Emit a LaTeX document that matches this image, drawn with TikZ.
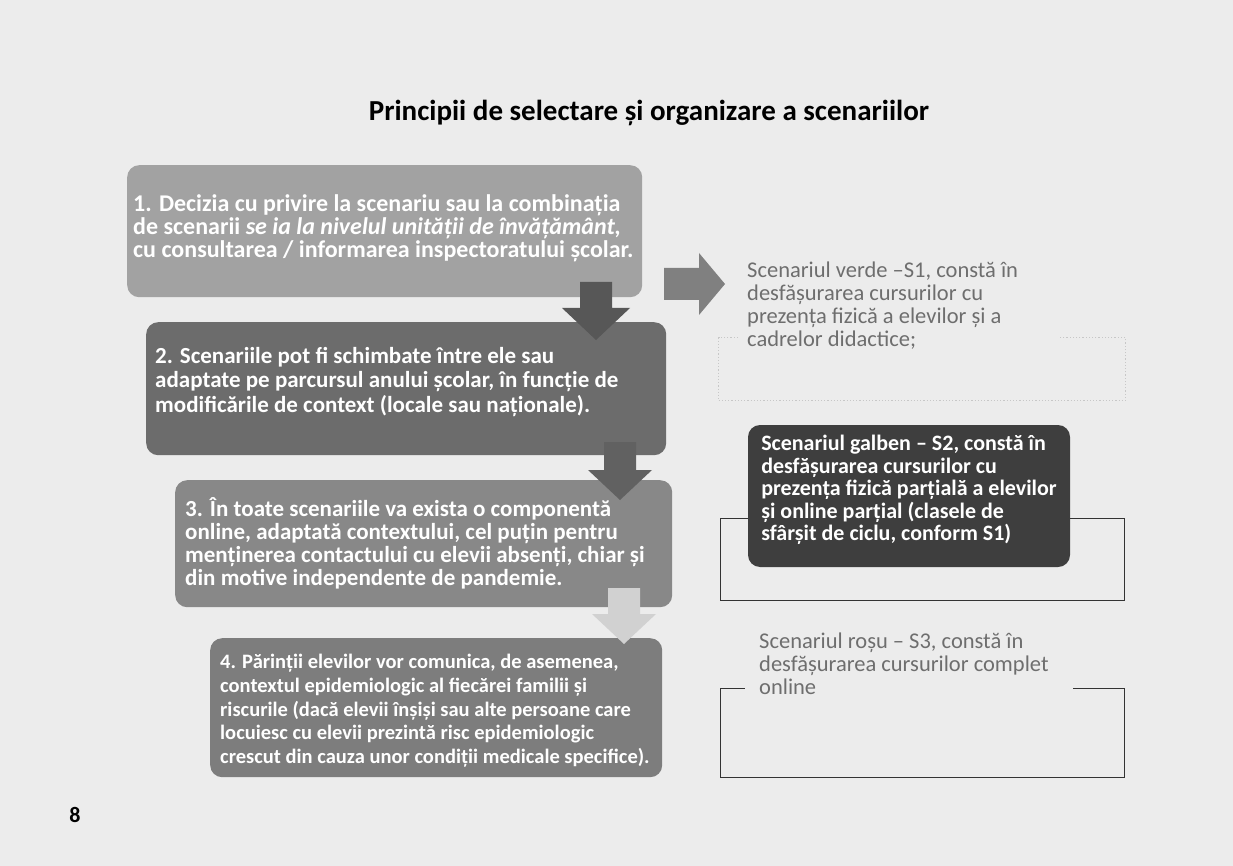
\documentclass[tikz,border=0pt]{standalone}
\usepackage{fontspec}
\setmainfont{Carlito}
\usepackage{tikz}

\definecolor{pagebg}{HTML}{ECECEC}
\definecolor{stepA}{HTML}{A2A2A2}
\definecolor{stepB}{HTML}{6C6C6C}
\definecolor{stepC}{HTML}{888888}
\definecolor{stepD}{HTML}{7D7D7D}
\definecolor{scenB}{HTML}{3E3E3E}
\definecolor{scentext}{HTML}{6E6E6E}

\tikzstyle{stepbox}=[rounded corners=12pt, inner sep=0pt, anchor=north west]
\tikzstyle{steptxt}=[anchor=north west, align=flush left, inner sep=0pt, text=white]
\tikzstyle{scentxt}=[anchor=north west, align=flush left, inner xsep=7pt, inner ysep=5pt, fill=pagebg, text=scentext, font=\fontsize{22.5}{23}\selectfont]
\tikzstyle{scenframe}=[draw=black!80, line width=1.2pt, inner sep=0pt, anchor=north west]

\begin{document}
\begin{tikzpicture}[x=1pt, y=-1pt]

\fill[pagebg] (0,0) rectangle (1233,866);
\useasboundingbox (0,0) rectangle (1233,866);

\node[font=\fontsize{29}{32}\selectfont\bfseries] (title) at (649,113) {Principii de selectare și organizare a scenariilor};

% left column: the four steps
\node[stepbox, fill=stepA, minimum width=515pt, minimum height=132pt] (b1) at (127,165) {};
\node[stepbox, fill=stepB, minimum width=520pt, minimum height=133pt] (b2) at (146,322) {};
\node[stepbox, fill=stepC, minimum width=497pt, minimum height=127pt] (b3) at (175,480) {};
\node[stepbox, fill=stepD, minimum width=452pt, minimum height=139pt] (b4) at (210,638) {};

\node[steptxt, font=\fontsize{24}{23}\selectfont\bfseries] (t1) at (133,194) {1. Decizia cu privire la scenariu sau la combinația\\
de scenarii \textit{se ia la nivelul unității de învățământ,}\\
cu consultarea / informarea inspectoratului școlar.};
\node[steptxt, font=\fontsize{23}{24.5}\selectfont\bfseries] (t2) at (155,347) {2. Scenariile pot fi schimbate între ele sau\\
adaptate pe parcursul anului școlar, în funcție de\\
modificările de context (locale sau naționale).};
\node[steptxt, font=\fontsize{23}{23}\selectfont\bfseries] (t3) at (185,497) {3. În toate scenariile va exista o componentă\\
online, adaptată contextului, cel puțin pentru\\
menținerea contactului cu elevii absenți,  chiar și\\
din motive independente de pandemie.};
\node[steptxt, font=\fontsize{20.5}{23.75}\selectfont\bfseries] (t4) at (220,654) {4. Părinții elevilor vor comunica, de asemenea,\\
contextul epidemiologic al fiecărei familii și\\
riscurile (dacă elevii înșiși sau alte persoane care\\
locuiesc cu elevii prezintă risc epidemiologic\\
crescut din cauza unor condiții medicale specifice).};

% block arrows
\fill[black!66] (580,282) -- (612,282) -- (612,308) -- (630,308) -- (596,340) -- (562,308) -- (580,308) -- cycle;
\fill[black!62] (604,442) -- (636,442) -- (636,470) -- (652,470) -- (620,500) -- (588,470) -- (604,470) -- cycle;
\fill[black!18] (608,588) -- (640,588) -- (640,614) -- (656,614) -- (624,644) -- (592,614) -- (608,614) -- cycle;
\fill[black!50] (664,268) -- (699,268) -- (699,253) -- (725,284) -- (699,315) -- (699,300) -- (664,300) -- cycle;

% right column: the three scenarios
\node[scenframe, draw=black!22, dotted, minimum width=407pt, minimum height=63pt] (f1) at (718,337) {};
\node[scenframe, minimum width=404pt, minimum height=82pt] (f2) at (720,518) {};
\node[scenframe, minimum width=404pt, minimum height=89pt] (f3) at (720,688) {};

\node[scentxt, text width=305pt] (s1) at (740,257) {Scenariul verde –S1, constă în\\
desfășurarea cursurilor cu\\
prezența fizică a elevilor și a\\
cadrelor didactice;};
\node[scentxt, anchor=center, fill=scenB, text=white, rounded corners=12pt, font=\fontsize{22}{22.5}\selectfont\bfseries, text depth=16pt, minimum width=322pt, minimum height=142pt] (s2) at (909,496) {Scenariul galben – S2, constă în\\
desfășurarea cursurilor cu\\
prezența fizică parțială a elevilor\\
și online parțial (clasele de\\
sfârșit de ciclu, conform S1)};
\node[scentxt, inner xsep=14pt, text width=300pt] (s3) at (745,628) {Scenariul roșu – S3, constă în\\
desfășurarea cursurilor complet\\
online};

\node[font=\fontsize{22}{24}\selectfont\bfseries] (pg) at (75,815) {8};

\end{tikzpicture}
\end{document}
